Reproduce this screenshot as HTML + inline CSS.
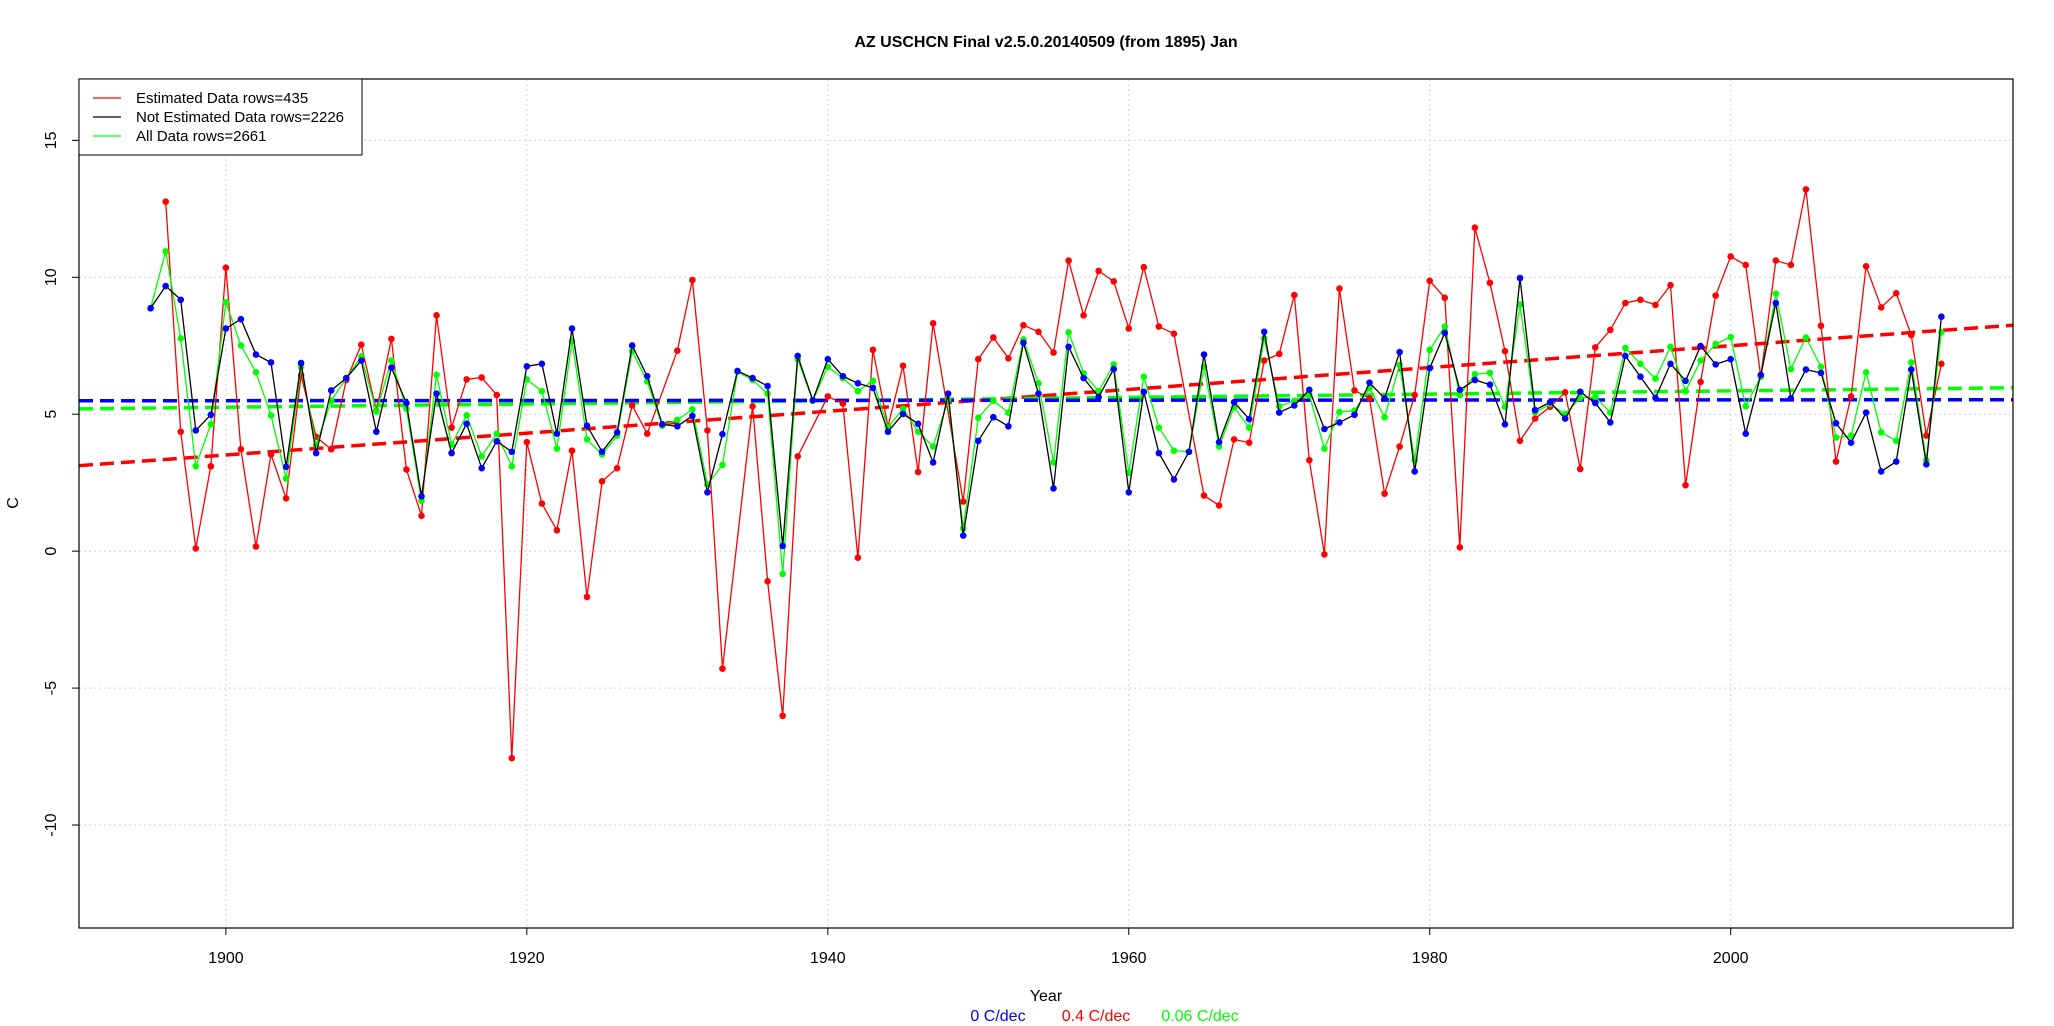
<!DOCTYPE html>
<html><head><meta charset="utf-8"><style>
body{margin:0;background:#fff;}
svg{display:block;font-family:"Liberation Sans",Arial,sans-serif;}
</style></head><body>
<svg id="chart" width="2054" height="1026" viewBox="0 0 2054 1026" xmlns="http://www.w3.org/2000/svg"></svg>
<script>
const years = [];
for (let y = 1895; y <= 2014; y++) years.push(y);
const notEstimated = [8.87,9.68,9.18,4.41,4.98,8.13,8.47,7.18,6.89,3.08,6.87,3.58,5.87,6.32,6.96,4.36,6.70,5.41,2.00,5.75,3.58,4.65,3.03,4.01,3.63,6.75,6.84,4.29,8.13,4.58,3.63,4.34,7.51,6.39,4.63,4.56,4.94,2.15,4.27,6.58,6.32,6.03,0.19,7.13,5.51,7.01,6.39,6.13,5.96,4.36,5.01,4.65,3.24,5.75,0.57,4.03,4.89,4.56,7.61,5.75,2.29,7.46,6.32,5.63,6.65,2.15,5.82,3.58,2.62,3.63,7.18,3.98,5.44,4.82,8.01,5.06,5.32,5.89,4.46,4.70,4.98,6.15,5.58,7.27,2.91,6.68,7.97,5.89,6.25,6.08,4.63,9.97,5.15,5.44,4.84,5.82,5.41,4.70,7.13,6.37,5.60,6.84,6.22,7.49,6.82,7.01,4.29,6.44,9.06,5.58,6.63,6.51,4.67,3.96,5.06,2.91,3.27,6.63,3.17,8.56];
const allData = [8.87,10.95,7.77,3.10,4.63,9.09,7.51,6.53,4.96,2.65,6.73,3.86,5.49,6.32,7.11,5.10,6.96,5.20,1.84,6.44,3.89,4.96,3.46,4.29,3.10,6.27,5.84,3.74,7.68,4.08,3.53,4.22,7.30,6.20,4.58,4.79,5.18,2.43,3.15,6.55,6.25,5.75,-0.83,7.01,5.49,6.73,6.32,5.84,6.22,4.53,5.20,4.36,3.82,5.53,0.83,4.87,5.49,5.06,7.73,6.13,3.24,7.99,6.49,5.84,6.82,2.86,6.37,4.51,3.67,3.63,6.73,3.82,5.25,4.51,7.77,5.29,5.49,5.70,3.74,5.08,5.13,5.96,4.89,6.80,3.32,7.35,8.20,5.70,6.46,6.51,5.27,9.01,5.06,5.37,5.01,5.60,5.63,5.06,7.42,6.84,6.30,7.46,5.84,6.96,7.56,7.82,5.29,6.37,9.40,6.65,7.80,6.73,4.15,4.22,6.53,4.34,4.03,6.89,3.32,7.99];
const estimated = [null,12.76,4.36,0.10,3.10,10.35,3.72,0.17,3.53,1.93,6.42,4.17,3.72,6.25,7.54,5.13,7.75,2.98,1.29,8.61,4.51,6.27,6.34,5.70,-7.56,3.98,1.74,0.76,3.67,-1.67,2.55,3.03,5.32,4.29,null,7.32,9.90,4.41,-4.29,null,5.29,-1.10,-6.01,3.46,null,5.65,5.39,-0.24,7.35,4.56,6.77,2.89,8.32,null,1.81,7.01,7.80,7.04,8.25,8.01,7.25,10.61,8.61,10.23,9.85,8.13,10.37,8.20,7.94,null,2.03,1.67,4.08,3.96,6.96,7.20,9.35,3.32,-0.12,9.59,5.87,5.58,2.10,3.82,5.70,9.87,9.25,0.14,11.81,9.80,7.30,4.03,4.84,5.27,5.80,3.00,7.44,8.08,9.06,9.18,8.99,9.71,2.41,6.18,9.33,10.76,10.45,6.37,10.61,10.45,13.21,8.23,3.27,5.65,10.40,8.90,9.42,7.89,4.22,6.84];
const xTicks = [1900,1920,1940,1960,1980,2000];
const yTicks = [-10,-5,0,5,10,15];
const legendLabels = ["Estimated Data rows=435","Not Estimated Data rows=2226","All Data rows=2661"];
const trendLabels = ["0 C/dec","0.4 C/dec","0.06 C/dec"];

const L=79,R=2013,T=79,B=928;
const X0=1890.24,X1=2018.76,Y0=-13.76,Y1=17.24;
const sx=v=>L+(v-X0)/(X1-X0)*(R-L);
const sy=v=>B-(v-Y0)/(Y1-Y0)*(B-T);
const svg=document.getElementById('chart');
const NS='http://www.w3.org/2000/svg';
function el(tag,attrs,parent){const e=document.createElementNS(NS,tag);for(const k in attrs)e.setAttribute(k,attrs[k]);(parent||svg).appendChild(e);return e;}

// title
let t=el('text',{x:1046,y:47,'text-anchor':'middle','font-size':16,'font-weight':'bold'});


t.textContent='AZ USCHCN Final v2.5.0.20140509 (from 1895) Jan';

// grid
const grid=el('g',{});


xTicks.forEach(v=>{el('line',{x1:sx(v),x2:sx(v),y1:T,y2:B,stroke:'#d3d3d3','stroke-dasharray':'2,3','stroke-width':1},grid);});
yTicks.forEach(v=>{el('line',{x1:L,x2:R,y1:sy(v),y2:sy(v),stroke:'#d3d3d3','stroke-dasharray':'2,3','stroke-width':1},grid);});

// axes ticks & labels
const xa=el('g',{});


xTicks.forEach(v=>{el('line',{x1:sx(v),x2:sx(v),y1:B,y2:B+7,stroke:'#000'},xa);
 const tx=el('text',{x:sx(v),y:963,'text-anchor':'middle','font-size':16},xa);tx.textContent=v;});
const ya=el('g',{});


yTicks.forEach(v=>{el('line',{x1:L-7,x2:L,y1:sy(v),y2:sy(v),stroke:'#000'},ya);
 const ty=el('text',{x:0,y:0,'text-anchor':'middle','font-size':16,transform:`translate(56,${sy(v)}) rotate(-90)`},ya);ty.textContent=v;});
let yt=el('text',{x:0,y:0,'text-anchor':'middle','font-size':16,transform:'translate(18,503) rotate(-90)'});


yt.textContent='C';
let xt=el('text',{x:1046,y:1001,'text-anchor':'middle','font-size':16});


xt.textContent='Year';
const tcol=['#0000ff','#ff0000','#00ff00'],tx=[998,1096,1200];
trendLabels.forEach((s,i)=>{const e=el('text',{x:tx[i],y:1021,'text-anchor':'middle','font-size':16,fill:tcol[i]});
 
 
 e.textContent=s;});

// trends
function fit(vals){let n=0,sxv=0,syv=0,sxx=0,sxy=0;vals.forEach((v,i)=>{if(v==null)return;const x=years[i];n++;sxv+=x;syv+=v;sxx+=x*x;sxy+=x*v;});
 const b=(n*sxy-sxv*syv)/(n*sxx-sxv*sxv);const a=(syv-b*sxv)/n;return [a,b];}
function trend(vals,color,name){const [a,b]=fit(vals);
 const ln=el('line',{x1:L,x2:R,y1:sy(a+b*X0),y2:sy(a+b*X1),stroke:color,'stroke-width':3.5,'stroke-dasharray':'14,7'});
 
 }
trend(estimated,'#ff0000','trend-estimated');
trend(allData,'#00ff00','trend-all');
trend(notEstimated,'#0000ff','trend-not-estimated');

// series
function series(vals,lineColor,ptColor,name){const g=el('g',{});
 
 
 let d='';vals.forEach((v,i)=>{if(v==null)return;d+=(d?'L':'M')+sx(years[i]).toFixed(1)+','+sy(v).toFixed(1);});
 el('path',{d:d,fill:'none',stroke:lineColor,'stroke-width':1.3},g);
 vals.forEach((v,i)=>{if(v==null)return;const c=el('circle',{cx:sx(years[i]),cy:sy(v),r:3.3,fill:ptColor},g);
  
  });}
series(estimated,'#ff0000','#ff0000','series-estimated');
series(allData,'#00ff00','#00ff00','series-all');
series(notEstimated,'#000000','#0000ff','series-not-estimated');

// box
const box=el('rect',{x:L,y:T,width:R-L,height:B-T,fill:'none',stroke:'#000','stroke-width':1.2});



// legend
const lg=el('g',{});


el('rect',{x:L,y:T,width:283,height:76,fill:'#fff',stroke:'#000','stroke-width':1},lg);
const lc=['#ff0000','#000000','#00ff00'];
legendLabels.forEach((s,i)=>{const y=98+i*19;
 const g=el('g',{},lg);
 
 
 el('line',{x1:93,x2:121,y1:y,y2:y,stroke:lc[i],'stroke-width':1.2},g);
 const e=el('text',{x:136,y:y+5,'font-size':15},g);e.textContent=s;});
</script>
</body></html>
